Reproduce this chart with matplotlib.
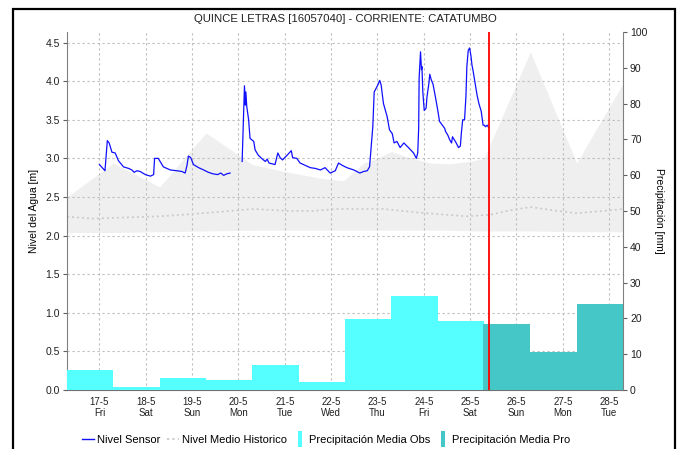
import numpy as np
import matplotlib
matplotlib.use("Agg")
import matplotlib.pyplot as plt
from matplotlib.lines import Line2D
from matplotlib.patches import Rectangle

plt.rcParams['font.family'] = ['Liberation Sans', 'DejaVu Sans']

# x values are days after 17-5 00:00 (2024)
tick_dias = [0, 1, 2, 3, 4, 5, 6, 7, 8, 9, 10, 11]
tick_fechas = ["17-5", "18-5", "19-5", "20-5", "21-5", "22-5",
               "23-5", "24-5", "25-5", "26-5", "27-5", "28-5"]
tick_semana = ["Fri", "Sat", "Sun", "Mon", "Tue", "Wed",
               "Thu", "Fri", "Sat", "Sun", "Mon", "Tue"]
x_ini, x_fin = -0.7, 11.3
ahora = 8.40

# nivel sensor [m] (NaN = gap in data)
sensor_dias = [0.00, 0.12, 0.17, 0.21, 0.27, 0.34, 0.41, 0.52, 0.63, 0.70, 0.75, 0.81,
               0.88, 0.99, 1.10, 1.17, 1.19, 1.27, 1.33, 1.38, 1.53, 1.67, 1.78, 1.85,
               1.89, 1.92, 1.97, 2.03, 2.14, 2.25, 2.35, 2.45, 2.55, 2.62, 2.68, 2.75,
               2.82, 2.95,
               3.08, 3.13, 3.15, 3.16, 3.18, 3.22, 3.25, 3.33, 3.36, 3.43, 3.50, 3.58,
               3.62, 3.66, 3.79, 3.85, 3.90, 3.95, 4.05, 4.14, 4.17, 4.26, 4.33, 4.44,
               4.55, 4.66, 4.77, 4.87, 4.98, 5.09, 5.16, 5.24, 5.34, 5.49, 5.62, 5.70,
               5.78, 5.83, 5.86, 5.90, 5.93, 6.00, 6.05, 6.08, 6.13, 6.21, 6.26, 6.32,
               6.36, 6.42, 6.49, 6.57, 6.67, 6.78, 6.84, 6.87, 6.89, 6.90, 6.93, 6.95,
               6.96, 6.98, 7.01, 7.05, 7.07, 7.11, 7.13, 7.16, 7.20, 7.25, 7.30, 7.34,
               7.40, 7.45, 7.47, 7.52, 7.56, 7.60, 7.62, 7.66, 7.70, 7.75, 7.79, 7.81,
               7.84, 7.88, 7.91, 7.93, 7.96, 7.99, 8.02, 8.04, 8.06, 8.11, 8.15, 8.19,
               8.24, 8.28, 8.31, 8.33, 8.37, 8.40]
sensor_nivel = [2.92, 2.84, 3.23, 3.20, 3.08, 3.07, 2.97, 2.89, 2.87, 2.85, 2.82, 2.84,
                2.83, 2.79, 2.77, 2.79, 3.00, 3.00, 2.94, 2.89, 2.85, 2.84, 2.83, 2.81,
                2.91, 3.03, 3.01, 2.92, 2.88, 2.85, 2.82, 2.80, 2.79, 2.81, 2.78, 2.80,
                2.81, np.nan,
                2.96, 3.94, 3.69, 3.86, 3.67, 3.50, 3.26, 3.22, 3.11, 3.04, 3.00, 2.96,
                2.99, 2.94, 2.92, 3.07, 3.01, 2.98, 3.04, 3.10, 3.01, 3.00, 2.94, 2.91,
                2.88, 2.87, 2.85, 2.88, 2.81, 2.84, 2.94, 2.91, 2.88, 2.85, 2.81, 2.83,
                2.84, 2.89, 3.11, 3.41, 3.86, 3.94, 4.01, 3.95, 3.71, 3.54, 3.37, 3.32,
                3.20, 3.22, 3.14, 3.20, 3.14, 3.07, 3.00, 3.07, 3.39, 4.04, 4.38, 4.15,
                4.19, 3.86, 3.62, 3.65, 3.80, 3.97, 4.09, 4.02, 3.96, 3.80, 3.63, 3.48,
                3.43, 3.39, 3.35, 3.30, 3.24, 3.20, 3.28, 3.24, 3.20, 3.14, 3.16, 3.32,
                3.50, 3.50, 3.80, 4.19, 4.40, 4.43, 4.32, 4.21, 4.15, 3.97, 3.82, 3.71,
                3.61, 3.43, 3.43, 3.41, 3.43, 3.40]

# historical band (min / max) and mean level [m]
banda_dias = [-0.7, 0.3, 1.3, 2.3, 3.3, 4.0, 4.8, 5.27, 5.70, 6.0, 6.3, 6.64, 7.14,
              7.57, 8.08, 8.3, 9.3, 10.3, 11.3]
banda_max = [2.50, 2.94, 2.63, 3.33, 2.92, 2.83, 2.74, 2.71, 2.94, 3.00, 3.09, 3.02, 2.94,
             2.93, 2.97, 3.00, 4.38, 2.94, 3.97]
banda_min = [2.04, 2.04, 2.05, 2.06, 2.07, 2.07, 2.07, 2.07, 2.07, 2.07, 2.07, 2.07, 2.07,
             2.07, 2.06, 2.06, 2.06, 2.05, 2.05]
medio_dias = [-0.7, -0.14, 0.81, 1.31, 2.03, 3.04, 3.33, 4.05, 4.62, 5.13, 6.13, 6.86,
              7.36, 7.94, 8.44, 8.80, 9.30, 9.88, 10.31, 10.89, 11.3]
medio_nivel = [2.245, 2.22, 2.24, 2.25, 2.28, 2.33, 2.345, 2.32, 2.32, 2.345, 2.345, 2.30,
               2.275, 2.25, 2.27, 2.32, 2.37, 2.32, 2.29, 2.32, 2.345]

# daily precipitation [mm] (bar starts)
obs_inicio = [-0.7, 0.3, 1.3, 2.3, 3.3, 4.3, 5.3, 6.3, 7.3]
obs_mm = [5.5, 0.9, 3.4, 2.8, 7.1, 2.1, 19.7, 26.2, 19.4]
pro_inicio = [8.28, 9.3, 10.3]
pro_mm = [18.4, 10.5, 24.1]

fig = plt.figure(figsize=(6.84, 4.49), dpi=100)
W, H = 684, 449
ax = fig.add_axes([67 / W, 1 - 390 / H, (623 - 67) / W, (390 - 32) / H])
ax2 = ax.twinx()

# outer frame
fig.patches.append(Rectangle((13 / W, -0.05), (675 - 13) / W, 1.05 - 9 / H,
                             transform=fig.transFigure, fill=False,
                             edgecolor='black', linewidth=1.6))

ax.fill_between(banda_dias, banda_min, banda_max, color='#EFEFEF', lw=0, zorder=0)
ax.plot(medio_dias, medio_nivel, color='#CACACA', lw=1.2, ls=(0, (1.2, 1.8)), zorder=2)
ax.plot(sensor_dias, sensor_nivel, color='#1010FF', lw=0.9, zorder=3)

ax2.bar(obs_inicio, obs_mm, width=1.0, align='edge', color='#55FFFF', lw=0, zorder=1)
ax2.bar(pro_inicio, pro_mm, width=1.02, align='edge', color='#45C7C7', lw=0, zorder=1)
ax2.axvline(ahora, color='#FF0000', lw=1.3, zorder=5)

ax.set_xlim(x_ini, x_fin)
ax.set_ylim(0, 4.637)
ax2.set_ylim(0, 100)
ax.set_yticks(np.arange(0, 4.6, 0.5))
ax.set_yticklabels([f"{v:.1f}" for v in np.arange(0, 4.6, 0.5)])
ax2.set_yticks(np.arange(0, 101, 10))
ax.set_xticks(tick_dias)
ax.set_xticklabels([f"{a}\n{b}" for a, b in zip(tick_fechas, tick_semana)],
                   linespacing=1.15)

ax.grid(True, color='#BDBDBD', ls=(0, (2, 2.5)), lw=0.8)
ax.set_axisbelow(True)

for a in (ax, ax2):
    a.spines['top'].set_visible(False)
ax.spines['right'].set_visible(False)
ax.spines['left'].set_color('#808080')
ax2.spines['right'].set_color('#808080')
ax2.spines['left'].set_visible(False)
ax.spines['bottom'].set_color('#707070')
ax.spines['bottom'].set_linestyle((0, (1, 1)))
ax2.spines['bottom'].set_visible(False)

ax.tick_params(axis='y', labelsize=7.5, length=3, color='#606060', pad=2, labelcolor='#202020')
ax.tick_params(axis='x', labelsize=7, length=0, pad=5, labelcolor='#202020')
ax2.tick_params(axis='y', labelsize=7.5, length=3, color='#606060', pad=2, labelcolor='#202020')

ax.set_ylabel("Nivel del Agua [m]", fontsize=7.5, labelpad=5)
ax2.set_ylabel("Precipitación [mm]", fontsize=7.5, rotation=270, labelpad=12)

fig.text(345 / W, 1 - 19 / H, "QUINCE LETRAS [16057040] - CORRIENTE: CATATUMBO",
         ha='center', va='center', fontsize=8.2, color='#202020')

rect = [(-0.3, -1), (0.3, -1), (0.3, 1), (-0.3, 1)]
handles = [
    Line2D([], [], color='#1010FF', lw=1.0),
    Line2D([], [], color='#C8C8C8', lw=1.3, ls=(0, (1.2, 1.8))),
    Line2D([], [], ls='', marker=rect, markersize=11, color='#55FFFF', markeredgewidth=0),
    Line2D([], [], ls='', marker=rect, markersize=11, color='#45C7C7', markeredgewidth=0),
]
labels = ["Nivel Sensor", "Nivel Medio Historico",
          "Precipitación Media Obs", "Precipitación Media Pro"]
fig.legend(handles, labels, loc='center', bbox_to_anchor=(326 / W, 1 - 440 / H),
           ncol=4, frameon=False, fontsize=8, handlelength=1.1, handletextpad=0.3,
           columnspacing=0.55, borderpad=0)

fig.savefig("out.png", dpi=100)
